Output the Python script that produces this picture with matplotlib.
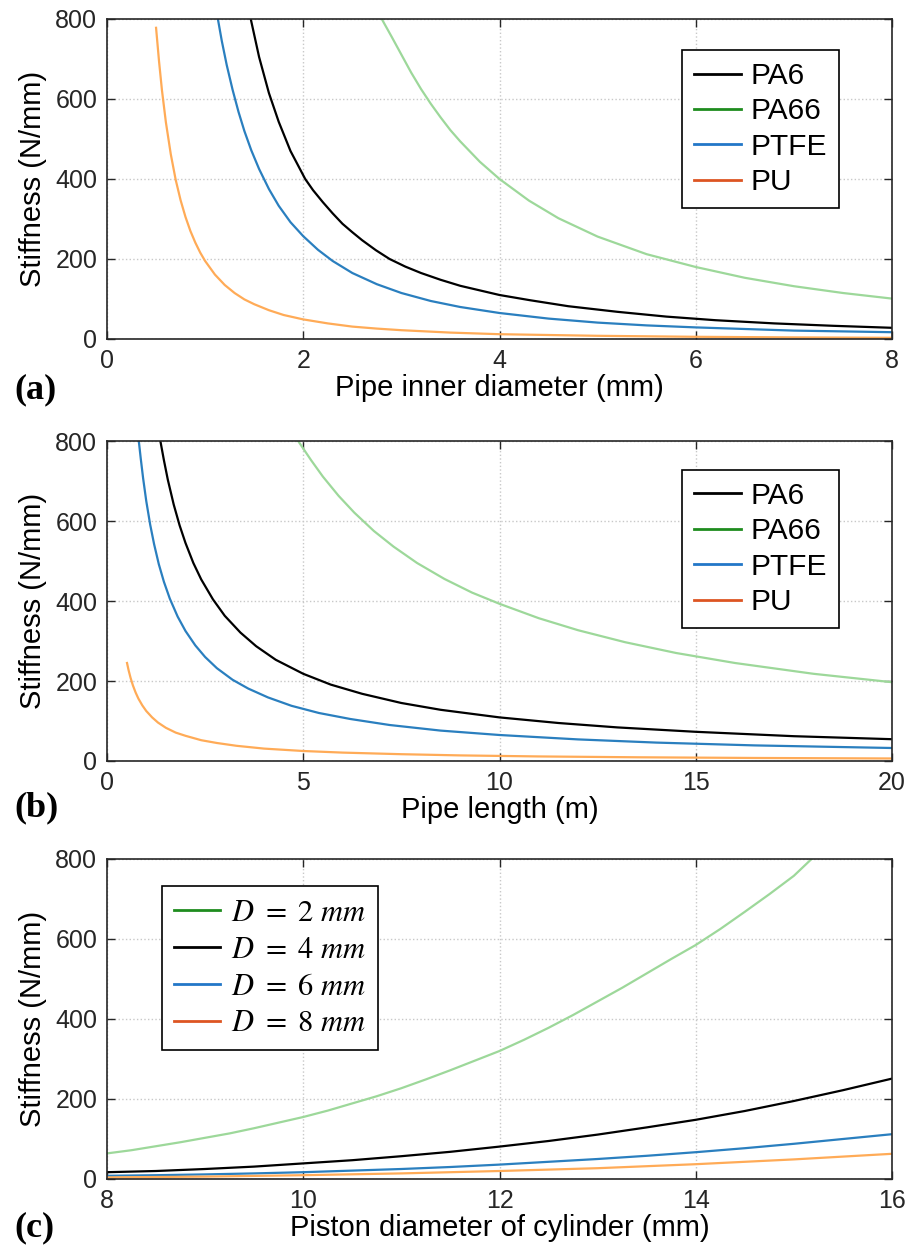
import numpy as np
import matplotlib.pyplot as plt
from matplotlib.lines import Line2D

plt.rcParams['font.family'] = ['Liberation Sans', 'DejaVu Sans']
plt.rcParams['mathtext.fontset'] = 'stix'

# ---- (a) stiffness vs pipe inner diameter (mm)
a_pa6_x = [1.465, 1.55, 1.65, 1.75, 1.87, 2.02, 2.1, 2.2, 2.3, 2.4, 2.5, 2.6, 2.74, 2.88, 3.04, 3.2, 3.4, 3.6,
           4.0, 4.31, 4.7, 5.2, 5.7, 6.2, 6.8, 7.4, 8.0]
a_pa6_y = [800, 705, 615, 543, 470, 400, 372, 342, 314, 288, 267, 247, 222, 200, 181, 165, 148, 133,
           110, 97, 82, 68, 56, 47, 39, 33, 28]
a_pa66_x = [2.8, 2.9, 3.0, 3.1, 3.2, 3.3, 3.4, 3.5, 3.6, 3.8, 4.0, 4.3, 4.6, 5.0, 5.5, 6.0, 6.5, 7.0, 7.5, 8.0]
a_pa66_y = [800, 756, 711, 666, 625, 588, 554, 522, 494, 443, 400, 346, 302, 256, 212, 180, 153, 132, 115, 101]
a_ptfe_x = [1.13, 1.17, 1.22, 1.28, 1.34, 1.4, 1.47, 1.55, 1.65, 1.75, 1.87, 2.0, 2.15, 2.3, 2.5, 2.75, 3.0, 3.3,
            3.6, 4.0, 4.5, 5.0, 5.5, 6.0, 6.5, 7.0, 7.5, 8.0]
a_ptfe_y = [800, 745, 685, 623, 568, 520, 472, 425, 375, 333, 292, 257, 223, 195, 165, 137, 115, 95,
            80, 65, 51, 41, 34, 29, 25, 21, 19, 17]
a_pu_x = [0.5, 0.53, 0.56, 0.6, 0.65, 0.7, 0.75, 0.8, 0.85, 0.9, 0.95, 1.0, 1.1, 1.2, 1.3, 1.4, 1.5, 1.65, 1.8,
          2.0, 2.25, 2.5, 2.75, 3.0, 3.5, 4.0, 5.0, 6.0, 7.0, 8.0]
a_pu_y = [778, 695, 622, 542, 462, 398, 347, 305, 270, 241, 216, 195, 161, 135, 115, 99, 87, 72, 60,
          49, 39, 31, 26, 22, 16, 12, 8, 5.5, 4, 3]

# ---- (b) stiffness vs pipe length (m)
b_pa6_x = [1.36, 1.45, 1.55, 1.7, 1.85, 2.0, 2.2, 2.4, 2.7, 3.0, 3.4, 3.8, 4.3, 5.0, 5.7, 6.5, 7.5, 8.5,
           10.0, 11.5, 13.0, 15.0, 17.5, 20.0]
b_pa6_y = [800, 752, 703, 641, 589, 545, 495, 454, 404, 363, 321, 287, 253, 218, 191, 168, 145, 128,
           109, 95, 84, 73, 62, 54.5]
b_pa66_x = [4.87, 5.2, 5.5, 5.9, 6.3, 6.8, 7.3, 7.9, 8.6, 9.3, 10.0, 11.0, 12.0, 13.2, 14.5, 16.0, 18.0, 20.0]
b_pa66_y = [800, 752, 711, 663, 621, 575, 536, 495, 455, 421, 393, 357, 327, 297, 270, 245, 218, 197]
b_ptfe_x = [0.81, 0.86, 0.92, 1.0, 1.1, 1.2, 1.32, 1.45, 1.6, 1.8, 2.0, 2.25, 2.5, 2.8, 3.2, 3.6, 4.1, 4.7,
            5.4, 6.2, 7.2, 8.5, 10.0, 12.0, 14.0, 16.5, 20.0]
b_ptfe_y = [800, 756, 707, 650, 591, 542, 492, 448, 406, 361, 325, 289, 260, 232, 203, 181, 159, 138,
            120, 105, 90, 76, 65, 54, 46, 39, 32.5]
b_pu_x = [0.51, 0.55, 0.6, 0.66, 0.73, 0.8, 0.9, 1.0, 1.15, 1.3, 1.5, 1.75, 2.0, 2.4, 2.8, 3.3, 4.0, 5.0,
          6.0, 7.5, 9.0, 11.0, 13.5, 16.5, 20.0]
b_pu_y = [245, 227, 208, 189, 171, 156, 139, 125, 109, 96, 83, 71, 63, 52, 45, 38, 31, 25,
          21, 17, 14, 11.4, 9.3, 7.6, 6.3]

# ---- (c) stiffness vs piston diameter of cylinder (mm)
c_d2_x = [8, 8.25, 8.5, 8.75, 9, 9.25, 9.5, 9.75, 10, 10.25, 10.5, 10.75, 11, 11.25, 11.5, 11.75, 12,
          12.25, 12.5, 12.75, 13, 13.25, 13.5, 13.75, 14, 14.25, 14.5, 14.75, 15, 15.18]
c_d2_y = [64, 72, 82, 92, 103, 114, 127, 141, 155, 171, 189, 207, 227, 249, 272, 296, 320,
          348, 378, 410, 444, 478, 514, 550, 585, 625, 668, 712, 758, 800]
c_d4_x = [8, 8.5, 9, 9.5, 10, 10.5, 11, 11.5, 12, 12.5, 13, 13.5, 14, 14.5, 15, 15.5, 16]
c_d4_y = [17, 20, 25, 31, 39, 47, 57, 68, 81, 95, 111, 129, 148, 170, 195, 222, 251]
c_d6_x = [8, 8.5, 9, 9.5, 10, 10.5, 11, 11.5, 12, 12.5, 13, 13.5, 14, 14.5, 15, 15.5, 16]
c_d6_y = [8, 9.5, 11.5, 14, 17, 21, 25, 30, 36, 43, 50, 58, 67, 77, 88, 100, 112]
c_d8_x = [8, 9, 10, 11, 12, 13, 14, 15, 16]
c_d8_y = [4, 6, 9.5, 14, 20, 27, 37, 49, 63]

mat_labels = ['PA6', 'PA66', 'PTFE', 'PU']
d_labels = [r'$D\ =\ 2\ mm$', r'$D\ =\ 4\ mm$', r'$D\ =\ 6\ mm$', r'$D\ =\ 8\ mm$']

line_black = '#000000'
line_green = '#9dd89a'
line_blue = '#2a7fbf'
line_orange = '#ffab57'
leg_green = '#1e8c1e'
leg_blue = '#2277c8'
leg_orange = '#dd5522'

W, H = 909, 1257
fig = plt.figure(figsize=(W / 100, H / 100), dpi=100)


def make_ax(top, bottom):
    ax = fig.add_axes([107 / W, 1 - bottom / H, 785 / W, (bottom - top) / H])
    ax.set_ylim(0, 800)
    ax.set_yticks([0, 200, 400, 600, 800])
    ax.grid(True, linestyle=':', color='#c8c8c8', linewidth=1.0)
    ax.tick_params(direction='in', top=True, right=True, labelsize=18,
                   length=6, width=1, colors='#262626', pad=7)
    for s in ax.spines.values():
        s.set_color('#262626')
        s.set_linewidth(1.2)
    ax.set_ylabel('Stiffness (N/mm)', fontsize=21, labelpad=6)
    return ax


def leg(ax, colors, labels, **kw):
    handles = [Line2D([], [], color=c, lw=2) for c in colors]
    l = ax.legend(handles, labels, fancybox=False, edgecolor='#000000',
                  framealpha=1, borderaxespad=0, **kw)
    l.get_frame().set_linewidth(1.2)
    return l


# (a)
ax1 = make_ax(19, 339)
ax1.plot(a_pa6_x, a_pa6_y, color=line_black, lw=1.6)
ax1.plot(a_pa66_x, a_pa66_y, color=line_green, lw=1.6)
ax1.plot(a_ptfe_x, a_ptfe_y, color=line_blue, lw=1.6)
ax1.plot(a_pu_x, a_pu_y, color=line_orange, lw=1.6)
ax1.set_xlim(0, 8)
ax1.set_xticks([0, 2, 4, 6, 8])
ax1.set_xlabel('Pipe inner diameter (mm)', fontsize=21, labelpad=1)
leg(ax1, [line_black, leg_green, leg_blue, leg_orange], mat_labels,
    loc='upper right', bbox_to_anchor=(0.9325, 0.903), fontsize=21.5,
    handlelength=1.57, handletextpad=0.33, labelspacing=0.25, borderpad=0.4)

# (b)
ax2 = make_ax(441, 761)
ax2.plot(b_pa6_x, b_pa6_y, color=line_black, lw=1.6)
ax2.plot(b_pa66_x, b_pa66_y, color=line_green, lw=1.6)
ax2.plot(b_ptfe_x, b_ptfe_y, color=line_blue, lw=1.6)
ax2.plot(b_pu_x, b_pu_y, color=line_orange, lw=1.6)
ax2.set_xlim(0, 20)
ax2.set_xticks([0, 5, 10, 15, 20])
ax2.set_xlabel('Pipe length (m)', fontsize=21, labelpad=1)
leg(ax2, [line_black, leg_green, leg_blue, leg_orange], mat_labels,
    loc='upper right', bbox_to_anchor=(0.9325, 0.91), fontsize=21.5,
    handlelength=1.57, handletextpad=0.33, labelspacing=0.25, borderpad=0.4)

# (c)
ax3 = make_ax(859, 1179)
ax3.plot(c_d2_x, c_d2_y, color=line_green, lw=1.6)
ax3.plot(c_d4_x, c_d4_y, color=line_black, lw=1.6)
ax3.plot(c_d6_x, c_d6_y, color=line_blue, lw=1.6)
ax3.plot(c_d8_x, c_d8_y, color=line_orange, lw=1.6)
ax3.set_xlim(8, 16)
ax3.set_xticks([8, 10, 12, 14, 16])
ax3.set_xlabel('Piston diameter of cylinder (mm)', fontsize=21, labelpad=1)
leg(ax3, [leg_green, line_black, leg_blue, leg_orange], d_labels,
    loc='upper left', bbox_to_anchor=(0.070, 0.916), fontsize=22,
    handlelength=1.5, handletextpad=0.36, labelspacing=0.22, borderpad=0.4)

for lab, y in [('(a)', 390), ('(b)', 808), ('(c)', 1228)]:
    fig.text(14 / W, 1 - y / H, lab, fontsize=26, fontweight='bold',
             family=['Liberation Serif', 'DejaVu Serif'], va='center', ha='left')

fig.savefig('out.png', dpi=100)
